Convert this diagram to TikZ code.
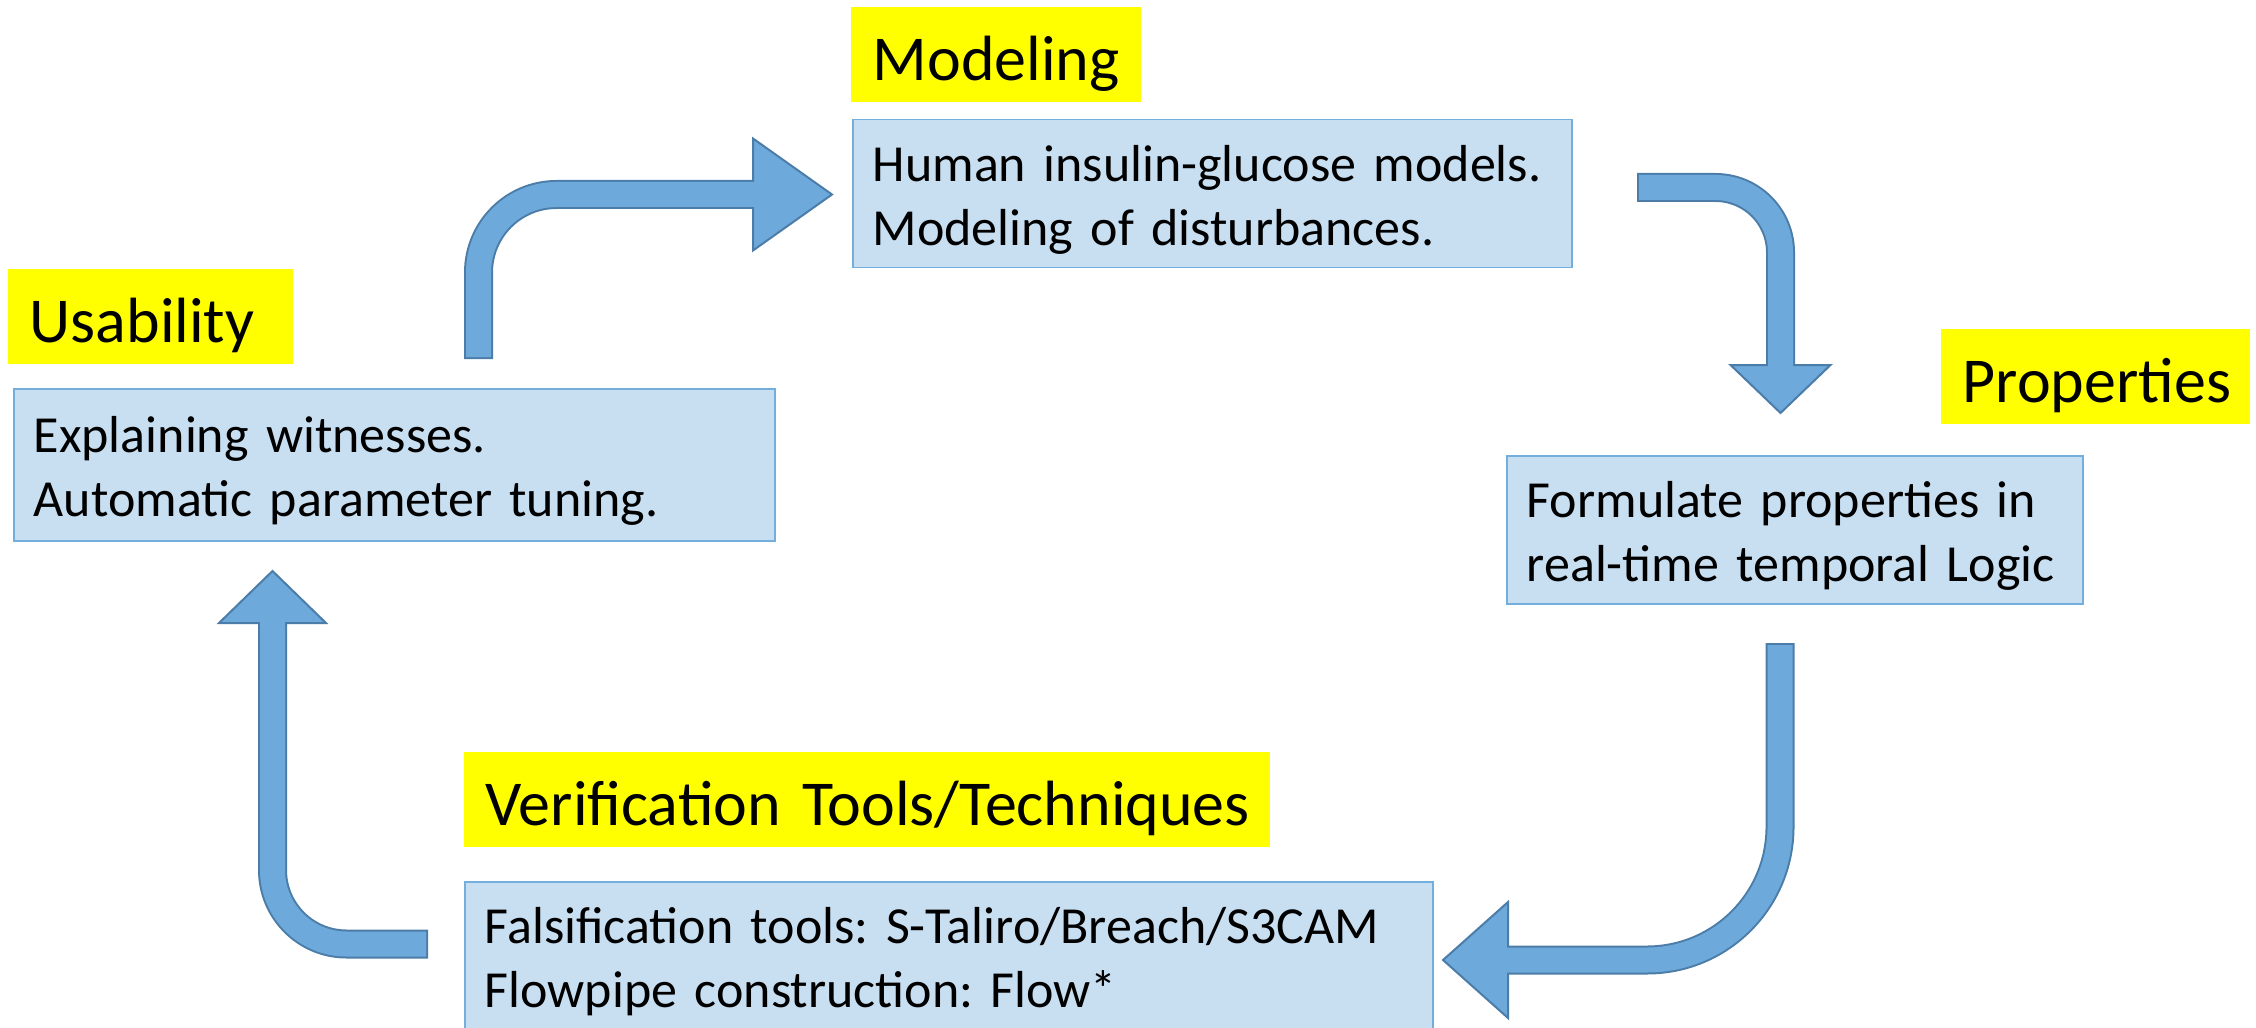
\documentclass[tikz,border=0pt]{standalone}
\usepackage{fontspec}
\setmainfont{Carlito}
\usetikzlibrary{calc}
\frenchspacing
\definecolor{arrowfill}{HTML}{6DA9DA}
\definecolor{arrowline}{HTML}{4B7DA8}
\definecolor{boxfill}{HTML}{C8DEF1}
\definecolor{boxline}{HTML}{74AEDD}
\definecolor{tagyellow}{HTML}{FFFF00}
\tikzset{
  topic/.style={fill=tagyellow, anchor=north west, inner xsep=2.2mm, inner ysep=0pt,
    text height=7.4mm, text depth=2.1mm, align=left, font=\fontsize{18.2}{22}\selectfont},
  stage/.style={fill=boxfill, draw=boxline, line width=0.15mm, anchor=north west,
    inner xsep=2mm, inner ysep=0pt, text height=6.2mm, text depth=8.6mm, align=left,
    font=\fontsize{14.8}{18.2}\selectfont},
  arrowedge/.style={draw=arrowline, line width=2.9mm},
  arrowbody/.style={draw=arrowfill, line width=2.5mm},
  arrowhead/.style={fill=arrowfill, draw=arrowline, line width=0.2mm, line join=miter}
}
% tail, corner, head base, tip, radius, half head
\newcommand{\bentarrow}[6]{%
  \draw[arrowedge, rounded corners=#5] (#1) -- (#2) -- (#3);
  \filldraw[arrowhead] ($(#3)!#6!90:(#4)$) -- (#4) -- ($(#3)!#6!-90:(#4)$) -- cycle;
  \draw[arrowbody, rounded corners=#5, shorten <=0.2mm] (#1) -- (#2) -- ($(#3)!0.4mm!(#4)$);
}
\begin{document}
\begin{tikzpicture}[x=0.1mm, y=-0.1mm]
  \useasboundingbox (0,0) rectangle (2256,1027);
  % labels
  \node[topic, text width=24.6mm] (modeltag) at (850,6) {Modeling};
  \node[topic, text width=24.1mm] (usetag) at (7,268) {Usability};
  \node[topic, text width=26.5mm] (proptag) at (1940,328) {Properties};
  \node[topic, text width=76.2mm] (veriftag) at (463,751) {\mbox{Verification Tools/Techniques}};
  % boxes
  \node[stage, text width=67.9mm] (modelbox) at (852,119)
    {Human insulin-glucose models.\\Modeling of disturbances.};
  \node[stage, text width=72.1mm, text height=6.4mm, text depth=8.8mm] (usebox) at (13,388)
    {Explaining witnesses.\\Automatic parameter tuning.};
  \node[stage, text width=53.6mm] (propbox) at (1506,455)
    {Formulate properties in\\real-time temporal Logic};
  \node[stage, text width=92.8mm] (verifbox) at (464,881)
    {Falsification tools: S-Taliro/Breach/S3CAM\\Flowpipe construction: Flow*};
  % arrow ends
  \coordinate (a1t) at (478.5,359);  \coordinate (a1c) at (478.5,194.5);
  \coordinate (a1b) at (753,194.5);  \coordinate (a1h) at (832,194.5);
  \coordinate (a2t) at (1637,187.5); \coordinate (a2c) at (1780.5,187.5);
  \coordinate (a2b) at (1780.5,365); \coordinate (a2h) at (1780.5,413);
  \coordinate (a3t) at (1780,643);   \coordinate (a3c) at (1780,960);
  \coordinate (a3b) at (1508,960);   \coordinate (a3h) at (1443,960);
  \coordinate (a4t) at (428,944);    \coordinate (a4c) at (272.5,944);
  \coordinate (a4b) at (272.5,623);  \coordinate (a4h) at (272.5,571);
  \bentarrow{a1t}{a1c}{a1b}{a1h}{7.8mm}{5.6mm}
  \bentarrow{a2t}{a2c}{a2b}{a2h}{6.5mm}{5mm}
  \bentarrow{a3t}{a3c}{a3b}{a3h}{13.3mm}{5.8mm}
  \bentarrow{a4t}{a4c}{a4b}{a4h}{7.4mm}{5.35mm}
\end{tikzpicture}
\end{document}
